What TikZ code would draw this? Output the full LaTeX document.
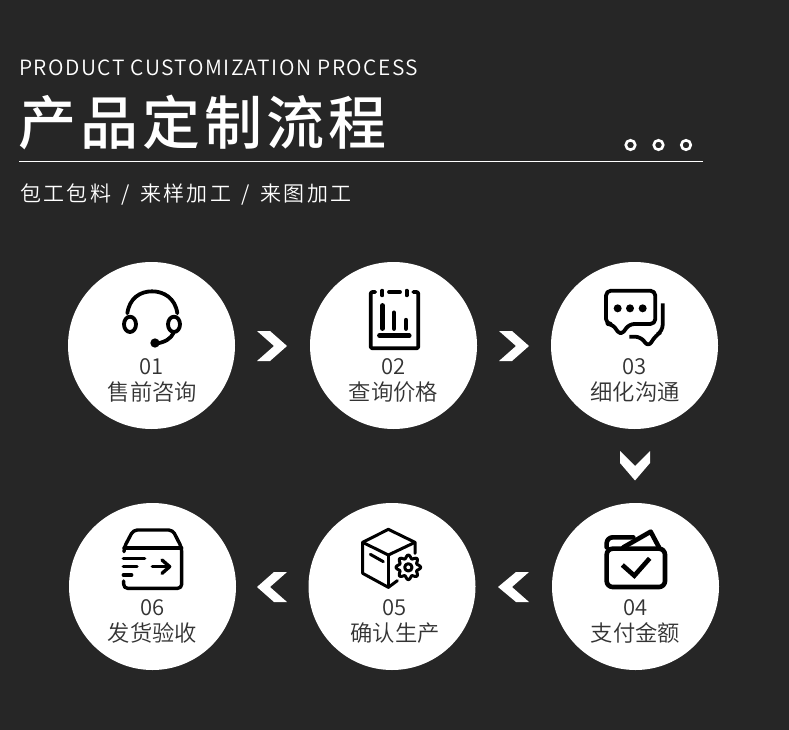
\documentclass[tikz,border=0pt]{standalone}
\usepackage{fontspec}
\setmainfont{Noto Sans CJK SC}
\newfontfamily\demicjk{Noto Sans CJK SC DemiLight}
\newfontfamily\mediumcjk{Noto Sans CJK SC Medium}
\definecolor{bg}{HTML}{262626}
\definecolor{ink}{HTML}{333333}
\tikzset{
  disc/.style={circle,fill=white,minimum size=167pt,inner sep=0pt},
  icon/.style={draw=black,line width=1.25pt,line join=round,line cap=round},
  thick icon/.style={icon,line width=3.8pt},
  numtext/.style={anchor=base,text=ink,font=\demicjk\fontsize{22}{22}\selectfont,inner sep=0pt},
  captext/.style={anchor=base,text=ink,font=\demicjk\fontsize{22.3}{22}\selectfont,inner sep=0pt},
  ring/.style={circle,draw=white,line width=2.6pt,minimum size=9.5pt,inner sep=0pt},
  chev/.style={fill=white,draw=none},
  zoomed/.style={x=0.33333pt,y=-0.33333pt,shift={#1}}
}
\begin{document}
\begin{tikzpicture}[x=1pt,y=-1pt]
\useasboundingbox[fill=bg] (0,0) rectangle (789,730);

\node[anchor=base west,inner sep=0pt,text=white,font=\demicjk\fontsize{21}{21}\selectfont\addfontfeature{LetterSpace=7}] (en) at (19,76) {PRODUCT CUSTOMIZATION PROCESS};
\node[anchor=base west,inner sep=0pt,text=white,font=\mediumcjk\fontsize{58}{58}\selectfont\addfontfeature{LetterSpace=7}] (title) at (18,145) {产品定制流程};
\coordinate (ruleA) at (19,161.5);
\coordinate (ruleB) at (703,161.5);
\draw[white,line width=1pt] (ruleA) -- (ruleB);
\node[anchor=base west,inner sep=0pt,text=white,font=\demicjk\fontsize{21}{21}\selectfont\addfontfeature{LetterSpace=11}] (sub) at (20,201) {包工包料\hspace{10.5pt}/\hspace{10.5pt}来样加工\hspace{10.5pt}/\hspace{10.5pt}来图加工};
\node[ring] (r1) at (630.5,145) {};
\node[ring] (r2) at (658.5,145) {};
\node[ring] (r3) at (686,145) {};

\node[disc] (c1) at (151.5,345.5) {};
\node[disc] (c2) at (393.5,345.5) {};
\node[disc] (c3) at (634.5,345.5) {};
\node[disc] (c4) at (635.5,586.5) {};
\node[disc] (c5) at (392,586.5) {};
\node[disc] (c6) at (152.5,586.5) {};

\node[numtext] (n1) at (151.5,374.5) {01};
\node[captext] (t1) at (152.5,400.5) {售前咨询};
\node[numtext] (n2) at (393.5,374.5) {02};
\node[captext] (t2) at (393.5,400.5) {查询价格};
\node[numtext] (n3) at (634.5,374.5) {03};
\node[captext] (t3) at (635,400.5) {细化沟通};
\node[numtext] (n4) at (635.5,615.5) {04};
\node[captext] (t4) at (635.5,641.5) {支付金额};
\node[numtext] (n5) at (394.5,615.5) {05};
\node[captext] (t5) at (395,641.5) {确认生产};
\node[numtext] (n6) at (152.5,615.5) {06};
\node[captext] (t6) at (152.5,641.5) {发货验收};

% chevrons
\fill[chev] (257,331)--(270,331)--(287,346)--(270,361)--(257,361)--(274,346)--cycle;
\fill[chev] (499,331)--(512,331)--(529,346)--(512,361)--(499,361)--(516,346)--cycle;
\fill[chev] (620,451)--(620,463)--(635,480.5)--(650,463)--(650,451)--(635,466)--cycle;
\fill[chev] (529,572)--(516,572)--(498,587)--(516,602)--(529,602)--(512,587)--cycle;
\fill[chev] (287,572)--(274,572)--(257,587)--(274,602)--(287,602)--(270,587)--cycle;

% 01 headset
\begin{scope}[zoomed={(90pt,-270pt)}]
\draw[thick icon] (112,130) .. controls (118,85) and (150,64) .. (186,64) .. controls (222,64) and (256,85) .. (262,130);
\draw[thick icon] (120,163) ellipse [x radius=18,y radius=23];
\draw[thick icon] (252,163) ellipse [x radius=18,y radius=23];
\draw[thick icon] (195,221) .. controls (225,218) and (243,205) .. (250,190);
\fill (195,219) circle [radius=14];
\end{scope}

% 02 clipboard
\begin{scope}[zoomed={(340pt,-270pt)}]
\draw[thick icon,rounded corners=2pt] (106,66) -- (92,66) -- (92,235) -- (235,235) -- (235,66) -- (220,66);
\draw[thick icon] (127,62) -- (127,76);
\draw[thick icon] (147,66) -- (180,66);
\draw[thick icon] (200,62) -- (200,76);
\draw[thick icon,line width=4.4pt] (127,106) -- (127,176);
\draw[thick icon,line width=4.4pt] (162,128) -- (162,176);
\draw[thick icon,line width=4.4pt] (198,150) -- (198,176);
\draw[thick icon,line width=4.4pt] (118,197) -- (208,197);
\end{scope}

% 03 chat
\begin{scope}[zoomed={(580pt,-270pt)}]
\draw[thick icon,rounded corners=5pt] (122,197) -- (148,162) -- (226,162) -- (226,62) -- (78,62) -- (78,162) -- (97,162) -- cycle;
\fill (113,115) circle [radius=12];
\fill (150,115) circle [radius=12];
\fill (188,115) circle [radius=12];
\draw[thick icon,line cap=butt,rounded corners=6pt] (248,100) -- (248,183) -- (226,197) -- (205,232) -- (183,200) -- (148,200);
\end{scope}

% 04 wallet
\begin{scope}[zoomed={(580pt,-510pt)}]
\draw[thick icon,line width=4.6pt,rounded corners=6pt] (80,116) -- (255,116) -- (255,231) -- (80,231) -- cycle;
\draw[thick icon,line width=4.6pt,rounded corners=6pt] (80,112) -- (80,82) -- (160,82);
\draw[thick icon,line width=4.6pt] (130,112) -- (212,65) -- (237,112);
\draw[thick icon,line width=4.6pt,line cap=butt,line join=miter] (127,165) -- (163,197) -- (209,145);
\end{scope}

% 05 box with gear
\begin{scope}[zoomed={(340pt,-510pt)}]
\draw[thick icon,line width=3pt] (225,130) -- (225,97) -- (145,58) -- (68,97) -- (68,190) -- (145,232) -- (172,212);
\draw[thick icon,line width=3pt] (68,97) -- (145,135) -- (225,97);
\draw[thick icon,line width=3pt] (145,135) -- (145,232);
\draw[thick icon,line width=3pt] (91,133) -- (130,155);
\draw[thick icon,line width=3pt] plot[smooth cycle,samples=65,domain=0:354.4,variable=\t] ({205+(32+5*cos(8*\t))*cos(\t)},{172+(32+5*cos(8*\t))*sin(\t)});
\draw[thick icon,line width=3pt] (205,172) circle [radius=11];
\end{scope}

% 06 parcel
\begin{scope}[zoomed={(100pt,-510pt)}]
\draw[thick icon,line width=3.4pt,rounded corners=4pt] (72,125) -- (72,113) -- (100,60) -- (218,60) -- (245,113) -- (245,235) -- (71,235) -- (71,213);
\draw[thick icon,line width=3.4pt] (72,114) -- (245,114);
\draw[thick icon,line width=3.4pt] (70,145) -- (134,145);
\draw[thick icon,line width=3.4pt] (70,170) -- (111,170);
\draw[thick icon,line width=3.4pt] (70,195) -- (95,195);
\draw[thick icon,line width=3.4pt] (157,170) -- (205,170);
\draw[thick icon,line width=3.4pt] (186,150) -- (209,170) -- (186,190);
\end{scope}
\end{tikzpicture}
\end{document}
